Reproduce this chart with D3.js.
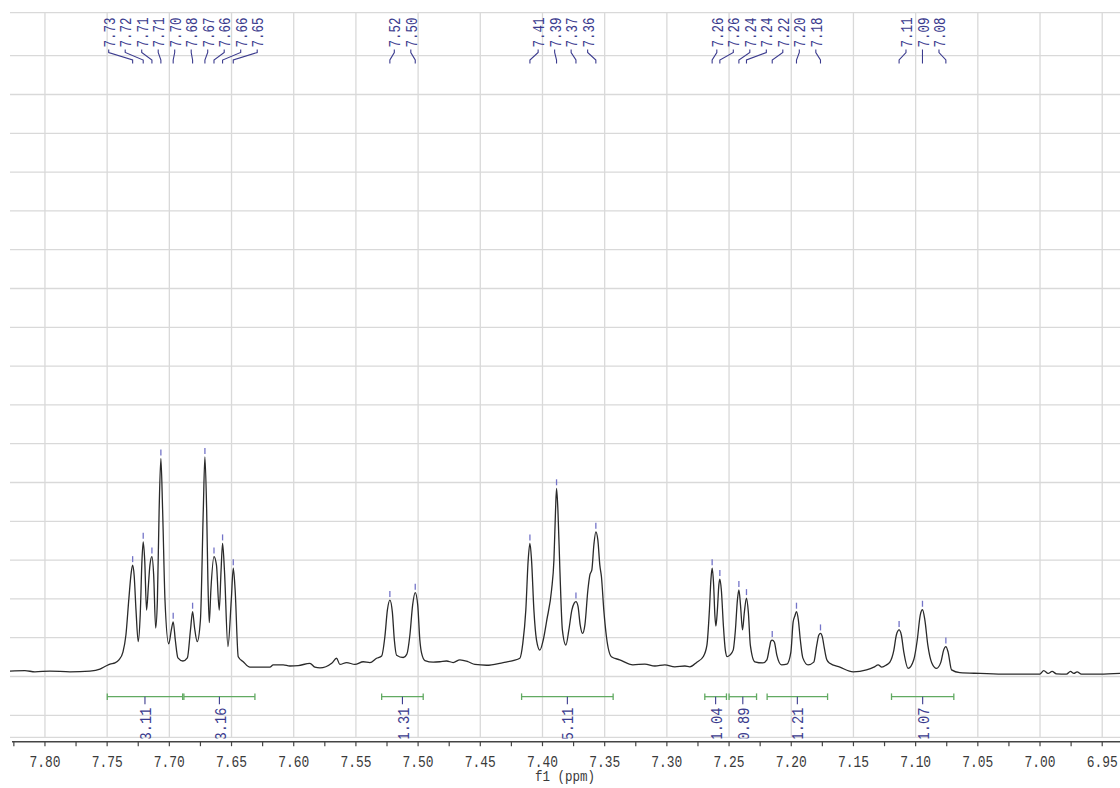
<!DOCTYPE html>
<html>
<head>
<meta charset="utf-8">
<script src="https://cdn.jsdelivr.net/npm/d3@7"></script>
<style>
  body { margin: 0; background: #fff; }
  svg { display: block; }
</style>
</head>
<body>
<svg id="chart" width="1120" height="788"></svg>
<script>
// 1H NMR trace: chemical shift (ppm) and intensity (arbitrary units)
const shiftPpm = [
  7.8281, 7.8161, 7.8080, 7.7960, 7.7799, 7.7638, 7.7558, 7.7510, 7.7477, 7.7437,
  7.7405, 7.7373, 7.7349, 7.7325, 7.7306, 7.7295, 7.7283, 7.7268, 7.7250, 7.7234,
  7.7220, 7.7210, 7.7198, 7.7183, 7.7168, 7.7156, 7.7140, 7.7126, 7.7110, 7.7096,
  7.7082, 7.7068, 7.7054, 7.7035, 7.7005, 7.6984, 7.6969, 7.6952, 7.6931, 7.6891,
  7.6855, 7.6830, 7.6813, 7.6797, 7.6776, 7.6750, 7.6727, 7.6714, 7.6700, 7.6690,
  7.6679, 7.6666, 7.6641, 7.6621, 7.6599, 7.6584, 7.6572, 7.6557, 7.6529, 7.6502,
  7.6486, 7.6471, 7.6446, 7.6406, 7.6352, 7.6272, 7.6191, 7.6165, 7.6084, 7.6031,
  7.5964, 7.5870, 7.5830, 7.5789, 7.5695, 7.5655, 7.5629, 7.5575, 7.5508, 7.5441,
  7.5387, 7.5334, 7.5293, 7.5267, 7.5247, 7.5227, 7.5207, 7.5191, 7.5173, 7.5120,
  7.5090, 7.5066, 7.5044, 7.5023, 7.5003, 7.4986, 7.4972, 7.4945, 7.4879, 7.4825,
  7.4771, 7.4718, 7.4664, 7.4597, 7.4543, 7.4449, 7.4316, 7.4236, 7.4182, 7.4158,
  7.4134, 7.4115, 7.4101, 7.4088, 7.4069, 7.4048, 7.4021, 7.3994, 7.3965, 7.3927,
  7.3908, 7.3895, 7.3887, 7.3876, 7.3860, 7.3840, 7.3812, 7.3788, 7.3764, 7.3745,
  7.3731, 7.3715, 7.3697, 7.3678, 7.3659, 7.3635, 7.3619, 7.3603, 7.3587, 7.3571,
  7.3555, 7.3539, 7.3526, 7.3507, 7.3486, 7.3446, 7.3379, 7.3273, 7.3177, 7.3096,
  7.3016, 7.2936, 7.2855, 7.2815, 7.2759, 7.2708, 7.2678, 7.2658, 7.2646, 7.2636,
  7.2624, 7.2614, 7.2606, 7.2594, 7.2582, 7.2574, 7.2562, 7.2546, 7.2530, 7.2515,
  7.2494, 7.2467, 7.2449, 7.2433, 7.2421, 7.2408, 7.2392, 7.2377, 7.2360, 7.2345,
  7.2329, 7.2293, 7.2228, 7.2196, 7.2176, 7.2164, 7.2153, 7.2136, 7.2116, 7.2078,
  7.2035, 7.2003, 7.1985, 7.1971, 7.1958, 7.1943, 7.1927, 7.1907, 7.1865, 7.1819,
  7.1795, 7.1778, 7.1765, 7.1750, 7.1734, 7.1714, 7.1690, 7.1609, 7.1502, 7.1395,
  7.1336, 7.1301, 7.1272, 7.1234, 7.1207, 7.1175, 7.1155, 7.1133, 7.1115, 7.1095,
  7.1060, 7.1015, 7.0987, 7.0963, 7.0945, 7.0926, 7.0902, 7.0870, 7.0832, 7.0797,
  7.0775, 7.0757, 7.0739, 7.0711, 7.0645, 7.0482, 7.0268, 7.0002, 6.9970, 6.9935,
  6.9903, 6.9868, 6.9787, 6.9755, 6.9728, 6.9702, 6.9667, 6.9518, 6.9357
];
const intensity = [
  1.14, 1.15, 1.12, 1.14, 1.12, 1.14, 1.19, 1.27, 1.32, 1.35,
  1.43, 1.63, 2.07, 3.02, 3.69, 3.87, 3.61, 2.71, 1.90, 2.59,
  4.00, 4.47, 4.00, 2.71, 3.36, 3.87, 4.09, 3.62, 2.25, 2.97,
  5.29, 6.62, 5.29, 2.97, 1.84, 2.20, 2.41, 1.94, 1.48, 1.40,
  1.48, 2.20, 2.67, 2.25, 1.90, 2.46, 5.29, 6.66, 5.29, 3.49,
  2.39, 3.23, 4.09, 3.87, 2.71, 3.74, 4.43, 3.74, 1.77, 2.97,
  3.79, 3.23, 1.51, 1.38, 1.24, 1.24, 1.24, 1.30, 1.30, 1.27,
  1.28, 1.34, 1.24, 1.22, 1.34, 1.47, 1.31, 1.36, 1.31, 1.38,
  1.36, 1.47, 1.53, 2.03, 2.71, 2.97, 2.66, 1.94, 1.55, 1.49,
  1.58, 2.07, 2.84, 3.16, 2.84, 1.94, 1.60, 1.41, 1.37, 1.38,
  1.40, 1.36, 1.43, 1.38, 1.31, 1.29, 1.36, 1.41, 1.47, 1.86,
  2.71, 4.00, 4.43, 4.00, 2.71, 1.94, 1.68, 1.94, 2.46, 3.23,
  4.00, 5.29, 5.85, 5.29, 3.74, 2.20, 1.81, 2.20, 2.71, 2.89,
  2.93, 2.82, 2.33, 2.11, 2.33, 3.23, 3.62, 3.75, 4.39, 4.73,
  4.52, 3.87, 3.57, 2.71, 2.03, 1.51, 1.43, 1.30, 1.32, 1.27,
  1.30, 1.25, 1.27, 1.25, 1.37, 1.51, 1.81, 2.71, 3.49, 3.79,
  3.36, 2.58, 2.30, 2.71, 3.36, 3.51, 3.23, 2.33, 1.68, 1.51,
  1.55, 1.68, 2.20, 2.97, 3.23, 2.84, 2.20, 2.66, 3.02, 2.66,
  1.81, 1.38, 1.35, 1.43, 1.73, 1.91, 1.94, 1.89, 1.55, 1.30,
  1.32, 1.63, 2.40, 2.56, 2.67, 2.46, 1.94, 1.48, 1.30, 1.37,
  1.81, 2.07, 2.11, 2.02, 1.73, 1.43, 1.34, 1.24, 1.12, 1.17,
  1.24, 1.30, 1.24, 1.30, 1.37, 1.68, 2.07, 2.20, 2.07, 1.63,
  1.21, 1.43, 1.94, 2.58, 2.72, 2.46, 1.81, 1.35, 1.21, 1.37,
  1.68, 1.77, 1.63, 1.17, 1.10, 1.08, 1.06, 1.06, 1.15, 1.08,
  1.13, 1.07, 1.06, 1.13, 1.08, 1.12, 1.06, 1.06, 1.08
];

// Picked peaks (ppm)
const peakPpm = [
  7.7295, 7.7210, 7.7140, 7.7068, 7.6969, 7.6813, 7.6714, 7.6641, 7.6572, 7.6486,
  7.5227, 7.5023,
  7.4101, 7.3887, 7.3731, 7.3571,
  7.2636, 7.2574, 7.2421, 7.2360, 7.2153, 7.1958, 7.1765,
  7.1133, 7.0945, 7.0757
];

// Integral regions (ppm) and their normalised areas
const integralFrom = [7.7499, 7.6883, 7.5293, 7.4168, 7.2695, 7.2500, 7.2194, 7.1194];
const integralTo   = [7.6893, 7.6312, 7.4959, 7.3432, 7.2521, 7.2279, 7.1708, 7.0693];
const integralValue = [3.11, 3.16, 1.31, 5.11, 1.04, 0.89, 1.21, 1.07];

// Axis ticks
const xTickValues = [7.80, 7.75, 7.70, 7.65, 7.60, 7.55, 7.50, 7.45, 7.40, 7.35,
                     7.30, 7.25, 7.20, 7.15, 7.10, 7.05, 7.00, 6.95];
const xMinorTickValues = [7.825, 7.775, 7.725, 7.675, 7.625, 7.575, 7.525, 7.475, 7.425,
                          7.375, 7.325, 7.275, 7.225, 7.175, 7.125, 7.075, 7.025, 6.975];
const yGridValues = [0, 1, 2, 3, 4, 5, 6, 7, 8, 9, 10, 11, 12, 13, 14, 15, 16, 17];
const xAxisTitle = "f1 (ppm)";

// ---------------------------------------------------------------------------
const svg = d3.select("#chart");
const W = 1120, H = 788;
const plot = { left: 10, right: 1120, top: 12.7, bottom: 737.3 };
const axisY = 741.7;

const x = d3.scaleLinear().domain([7.8281, 6.9357]).range([plot.left, plot.right]);
const y = d3.scaleLinear().domain([0, 17]).range([715.3, 55.7]);

const labelFont = "'Liberation Mono', 'DejaVu Sans Mono', monospace";
const labelColor = "#3b3b8e";
const gridColor = "#d9d9d9";

svg.append("rect").attr("width", W).attr("height", H).attr("fill", "#fff");

// grid
const grid = svg.append("g").attr("stroke", gridColor).attr("stroke-width", 1.3);
grid.selectAll("line.v").data(xTickValues).join("line")
  .attr("class", "v")
  .attr("x1", d => x(d)).attr("x2", d => x(d))
  .attr("y1", plot.top).attr("y2", plot.bottom);
grid.selectAll("line.h").data(yGridValues).join("line")
  .attr("class", "h")
  .attr("x1", plot.left).attr("x2", plot.right)
  .attr("y1", d => y(d)).attr("y2", d => y(d));
grid.append("line").attr("x1", plot.left).attr("x2", plot.right)
  .attr("y1", plot.top).attr("y2", plot.top);
grid.append("line").attr("x1", plot.left).attr("x2", plot.right)
  .attr("y1", plot.bottom).attr("y2", plot.bottom);

// spectrum
const pts = shiftPpm.map((p, i) => [p, intensity[i]]);
const line = d3.line()
  .x(d => x(d[0]))
  .y(d => y(d[1]))
  .curve(d3.curveMonotoneX);
svg.append("path")
  .datum(pts.slice().reverse())
  .attr("d", line)
  .attr("fill", "none")
  .attr("stroke", "#2a2a2a")
  .attr("stroke-width", 1.3)
  .attr("stroke-linejoin", "round");

// peak markers just above each picked maximum
function heightAt(p) {
  let best = 0;
  for (let i = 1; i < shiftPpm.length; i++) {
    if (Math.abs(shiftPpm[i] - p) < Math.abs(shiftPpm[best] - p)) best = i;
  }
  return intensity[best];
}
svg.append("g").attr("stroke", "#7474c8").attr("stroke-width", 1.3)
  .selectAll("line").data(peakPpm).join("line")
  .attr("x1", d => x(d)).attr("x2", d => x(d))
  .attr("y1", d => y(heightAt(d)) - 9)
  .attr("y2", d => y(heightAt(d)) - 3);

// peak labels: group nearby peaks and fan the labels out evenly
const px = peakPpm.map(p => x(p));
const clusters = [];
px.forEach((v, i) => {
  if (i && v - px[i - 1] < 27) clusters[clusters.length - 1].push(i);
  else clusters.push([i]);
});
const labelX = [];
const step = 16.5;
clusters.forEach(c => {
  const mid = (px[c[0]] + px[c[c.length - 1]]) / 2;
  c.forEach((idx, k) => { labelX[idx] = mid + (k - (c.length - 1) / 2) * step; });
});

const peakLabels = svg.append("g");
peakLabels.selectAll("path").data(peakPpm).join("path")
  .attr("d", (d, i) => `M${labelX[i]},49.5V52.5L${px[i]},60V63.5`)
  .attr("fill", "none")
  .attr("stroke", labelColor)
  .attr("stroke-width", 1.1);
peakLabels.selectAll("text").data(peakPpm).join("text")
  .attr("transform", (d, i) => `translate(${labelX[i]},47.5) rotate(-90)`)
  .attr("dy", "0.36em")
  .attr("text-anchor", "start")
  .attr("font-family", labelFont)
  .attr("font-size", 17)
  .attr("textLength", 30)
  .attr("lengthAdjust", "spacingAndGlyphs")
  .attr("fill", labelColor)
  .text(d => d.toFixed(2));

// integrals (labels are cut off by the bottom frame)
svg.append("defs").append("clipPath").attr("id", "plotClip")
  .append("rect").attr("x", 0).attr("y", 0).attr("width", W).attr("height", 738.5);

const integrals = integralValue.map((v, i) => ({ v, from: integralFrom[i], to: integralTo[i] }));
const ig = svg.append("g");
const barY = 696.7;
ig.selectAll("g.int").data(integrals).join("g").attr("class", "int").each(function (d) {
  const g = d3.select(this);
  const x0 = x(d.from), x1 = x(d.to), xc = (x0 + x1) / 2;
  g.append("line").attr("x1", x0).attr("x2", x1).attr("y1", barY).attr("y2", barY)
    .attr("stroke", "#62aa62").attr("stroke-width", 1.3);
  [x0, x1].forEach(xe => g.append("line")
    .attr("x1", xe).attr("x2", xe).attr("y1", barY - 3.3).attr("y2", barY + 3.3)
    .attr("stroke", "#62aa62").attr("stroke-width", 1.3));
  g.append("line").attr("x1", xc).attr("x2", xc).attr("y1", barY).attr("y2", barY + 7.5)
    .attr("stroke", labelColor).attr("stroke-width", 1.1);
  g.append("g").attr("clip-path", "url(#plotClip)")
    .append("text")
    .attr("transform", `translate(${xc},707.5) rotate(-90)`)
    .attr("dy", "0.36em")
    .attr("text-anchor", "end")
    .attr("font-family", labelFont)
    .attr("font-size", 17)
    .attr("textLength", 33)
    .attr("lengthAdjust", "spacingAndGlyphs")
    .attr("fill", labelColor)
    .text(d.v.toFixed(2));
});

// x axis
const axisG = svg.append("g").attr("transform", `translate(0,${axisY})`);
axisG.append("line").attr("x1", plot.left + 2).attr("x2", plot.right)
  .attr("stroke", "#444").attr("stroke-width", 1.5);
const allTicks = xTickValues.concat(xMinorTickValues);
axisG.selectAll("line.tick").data(allTicks).join("line")
  .attr("class", "tick")
  .attr("x1", d => x(d)).attr("x2", d => x(d))
  .attr("y1", 0).attr("y2", 4.5)
  .attr("stroke", "#444").attr("stroke-width", 1.2);
axisG.selectAll("text").data(xTickValues).join("text")
  .attr("x", d => x(d))
  .attr("y", 25.5)
  .attr("text-anchor", "middle")
  .attr("font-family", labelFont)
  .attr("font-size", 17)
  .attr("textLength", 31)
  .attr("lengthAdjust", "spacingAndGlyphs")
  .attr("fill", "#3a3a3a")
  .text(d => d.toFixed(2));

svg.append("text")
  .attr("x", 565)
  .attr("y", 781)
  .attr("text-anchor", "middle")
  .attr("font-family", labelFont)
  .attr("font-size", 15)
  .attr("textLength", 60)
  .attr("lengthAdjust", "spacingAndGlyphs")
  .attr("fill", "#3a3a3a")
  .text(xAxisTitle);
</script>
</body>
</html>
